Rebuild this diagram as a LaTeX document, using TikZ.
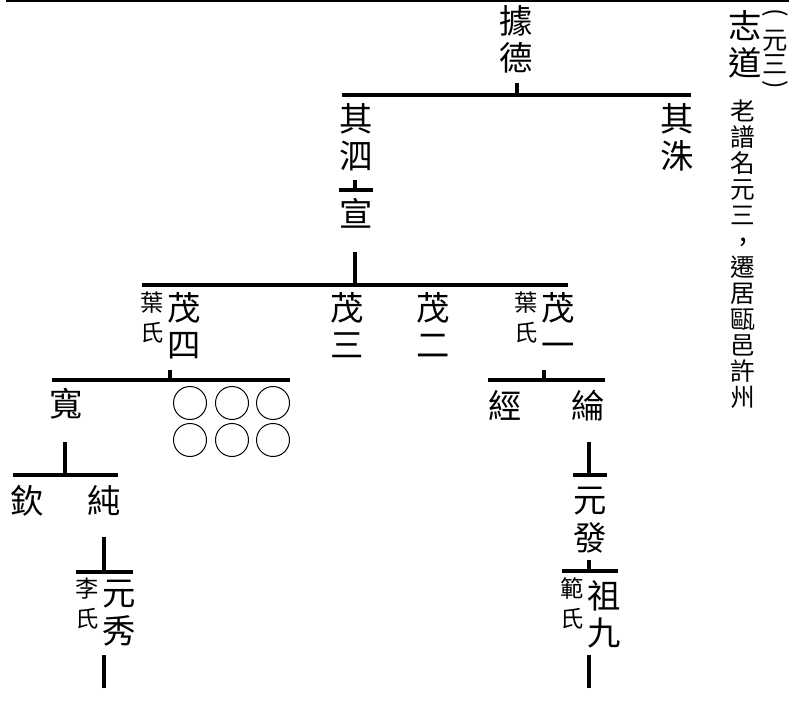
\documentclass[tikz,border=0pt]{standalone}
\usepackage{fontspec}
\newfontfamily\cjk{Noto Sans CJK TC}
\usetikzlibrary{positioning}

\begin{document}
\begin{tikzpicture}[x=0.75pt, y=-0.75pt,
            person/.style={font=\cjk\fontsize{25}{28}\selectfont, align=center, inner sep=0pt, anchor=north},
            wife/.style={font=\cjk\fontsize{17.5}{22.5}\selectfont, align=center, inner sep=0pt},
            remark/.style={font=\cjk\fontsize{18.5}{19.5}\selectfont, align=center, inner sep=0pt, anchor=north},
            alias/.style={font=\cjk\fontsize{19}{18}\selectfont, align=center, inner sep=0pt, anchor=north},
            paren/.style={font=\cjk\fontsize{19}{19}\selectfont, inner sep=0pt},
            blank/.style={draw=black, circle, line width=0.75pt, minimum size=24.75pt, inner sep=0pt},
            bar/.style={line width=2.7pt}
        ]
        \useasboundingbox (0,0) rectangle (795,709);

        % Namen
        \node[person] (jude) at (516,5) {據\\德};
        \node[person] (zhidao) at (745,10) {志\\道};
        \node[alias] (zhidaoalt) at (775,30) {元\\三};
        \node[paren] (altopen) at (775,12.5) {\rotatebox{-90}{(}};
        \node[paren] (altclose) at (775,85) {\rotatebox{-90}{)}};
        \node[remark] (remark) at (743,100) {老\\譜\\名\\元\\三\\{\fontsize{21}{19.5}\selectfont\raisebox{7pt}{\makebox[0pt]{,}}}\\遷\\居\\甌\\邑\\許\\州};
        \node[person] (qisi) at (356,103) {其\\泗};
        \node[person] (qizhu) at (677,103) {其\\洙};
        \node[person] (xuan) at (356,198) {宣};
        \node[person] (maosi) at (184,292) {茂\\四};
        \node[wife, left=2pt of maosi.north west, anchor=north east] (yemaosi) {葉\\氏};
        \node[person] (maosan) at (347,292) {茂\\三};
        \node[person] (maoer) at (433,292) {茂\\二};
        \node[person] (maoyi) at (558,292) {茂\\一};
        \node[wife, left=2pt of maoyi.north west, anchor=north east] (yemaoyi) {葉\\氏};
        \node[person] (kuan) at (66,388) {寬};
        \node[blank] (blank1) at (190,403) {};
        \node[blank] (blank2) at (232,403) {};
        \node[blank] (blank3) at (273,403) {};
        \node[blank] (blank4) at (190,440) {};
        \node[blank] (blank5) at (232,440) {};
        \node[blank] (blank6) at (273,440) {};
        \node[person] (jing) at (505,390) {經};
        \node[person] (lun) at (588,390) {綸};
        \node[person] (qin) at (27,485) {欽};
        \node[person] (chun) at (104,485) {純};
        \node[person] (yuanfa) at (590,487) {元\\發};
        \node[person] (yuanxiu) at (119,580) {元\\秀};
        \node[wife, left=2pt of yuanxiu.north west, anchor=north east, yshift=2pt] (lishi) {李\\氏};
        \node[person] (zujiu) at (604,580) {祖\\九};
        \node[wife, left=2pt of zujiu.north west, anchor=north east, yshift=2pt] (fanshi) {範\\氏};

        % Linien
        \coordinate (toprule-l) at (6,0);
        \coordinate (toprule-r) at (789,0);
        \draw[line width=3pt] (toprule-l) -- (toprule-r);

        \coordinate (jude-bar) at (517,95);
        \draw[bar] (jude-bar) -- ++(0,-12);
        \draw[bar] ([xshift=2.5pt]qisi.west |- jude-bar) -- ([xshift=-2.5pt]qizhu.east |- jude-bar);

        \coordinate (qisi-bar) at (355,190);
        \draw[bar] (qisi-bar) -- ++(0,-10);
        \draw[bar] (xuan.west |- qisi-bar) -- (xuan.east |- qisi-bar);

        \coordinate (xuan-bar) at (355,285);
        \draw[bar] (xuan-bar) -- ++(0,-33);
        \draw[bar] ([xshift=1pt]yemaosi.west |- xuan-bar) -- ([xshift=-5pt]maoyi.east |- xuan-bar);

        \coordinate (maosi-bar) at (170,380);
        \draw[bar] (maosi-bar) -- ++(0,-10);
        \draw[bar] ([xshift=2pt]kuan.west |- maosi-bar) -- (blank3.east |- maosi-bar);

        \coordinate (maoyi-bar) at (544,380);
        \draw[bar] (maoyi-bar) -- ++(0,-10);
        \draw[bar] (jing.west |- maoyi-bar) -- (lun.east |- maoyi-bar);

        \coordinate (kuan-bar) at (65,475);
        \draw[bar] (kuan-bar) -- ++(0,-33);
        \draw[bar] ([xshift=2pt]qin.west |- kuan-bar) -- ([xshift=-2pt]chun.east |- kuan-bar);

        \coordinate (lun-bar) at (589,475);
        \draw[bar] (lun-bar) -- ++(0,-33);
        \draw[bar] (yuanfa.west |- lun-bar) -- (yuanfa.east |- lun-bar);

        \coordinate (chun-bar) at (104,572);
        \draw[bar] (chun-bar) -- ++(0,-35);
        \draw[bar] (lishi.west |- chun-bar) -- ([xshift=-2pt]yuanxiu.east |- chun-bar);

        \coordinate (yuanfa-bar) at (589,571);
        \draw[bar] (yuanfa-bar) -- ++(0,-11);
        \draw[bar] ([xshift=1pt]fanshi.west |- yuanfa-bar) -- ([xshift=-2pt]zujiu.east |- yuanfa-bar);

        \coordinate (yuanxiu-end) at (104,688);
        \draw[bar] (yuanxiu-end) -- ++(0,-33);

        \coordinate (zujiu-end) at (589,688);
        \draw[bar] (zujiu-end) -- ++(0,-33);

    \end{tikzpicture}
\end{document}
